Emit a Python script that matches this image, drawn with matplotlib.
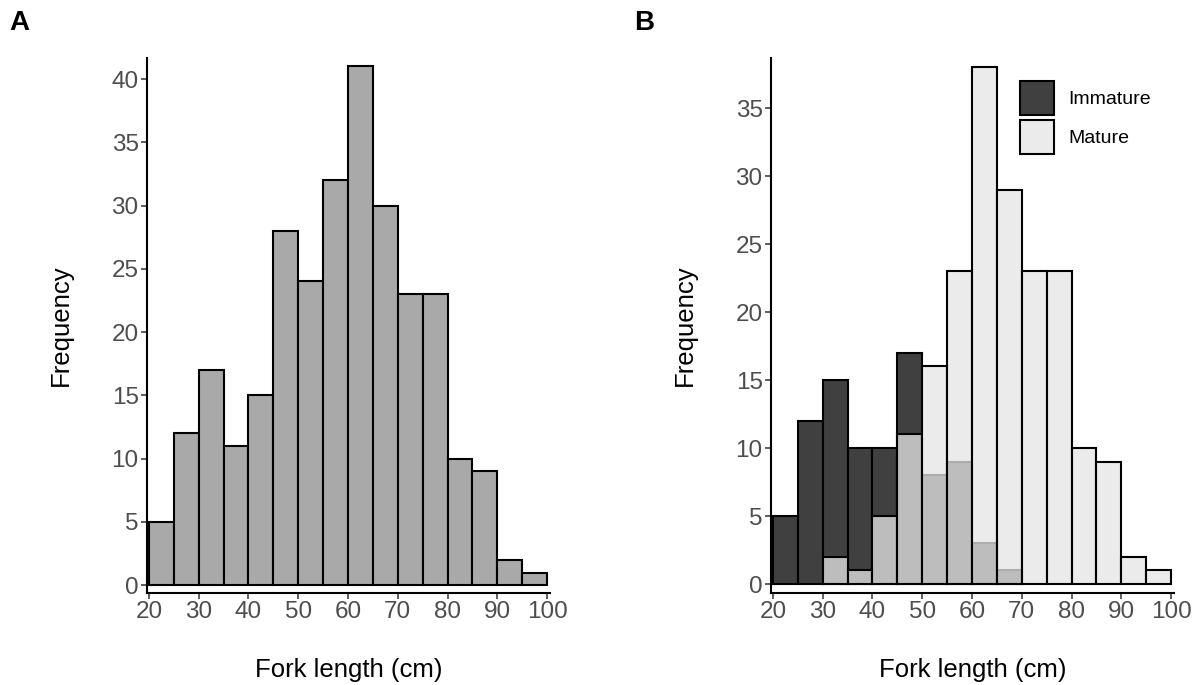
import matplotlib
matplotlib.use("Agg")
import matplotlib.pyplot as plt
from matplotlib.patches import Patch
import numpy as np

plt.rcParams['font.family'] = ['Liberation Sans', 'DejaVu Sans']

# bins of 5 cm from 20 to 100
bin_left = np.arange(20, 100, 5)
total = [5, 12, 17, 11, 15, 28, 24, 32, 41, 30, 23, 23, 10, 9, 2, 1]
immature = [5, 12, 15, 10, 10, 17, 8, 9, 3, 1, 0, 0, 0, 0, 0, 0]
mature = [0, 0, 2, 1, 5, 11, 16, 23, 38, 29, 23, 23, 10, 9, 2, 1]
xticks = [20, 30, 40, 50, 60, 70, 80, 90, 100]

W, H = 1198, 685
fig = plt.figure(figsize=(W / 100, H / 100), dpi=100)

bottom = (H - 593) / H
top = (H - 58) / H
axA = fig.add_axes([147 / W, bottom, (550 - 147) / W, top - bottom])
axB = fig.add_axes([771 / W, bottom, (1174 - 771) / W, top - bottom])

lw = 1.5
axA.bar(bin_left, total, width=5, align='edge', color='#a9a9a9',
        edgecolor='black', linewidth=lw)

imm = np.array(immature)
mat = np.array(mature)
m = imm > 0
axB.bar(bin_left[m], imm[m], width=5, align='edge', color='#404040',
        edgecolor='black', linewidth=lw)
m = mat > 0
axB.bar(bin_left[m], mat[m], width=5, align='edge',
        color=(229 / 255, 229 / 255, 229 / 255, 0.76),
        edgecolor='black', linewidth=lw)

axA.set_ylim(-0.62, 41.66)
axB.set_ylim(-0.66, 38.68)
axA.set_yticks(range(0, 41, 5))
axB.set_yticks(range(0, 36, 5))

for ax in (axA, axB):
    ax.set_xlim(19.6, 100.6)
    ax.set_xticks(xticks)
    for s in ('top', 'right'):
        ax.spines[s].set_visible(False)
    for s in ('left', 'bottom'):
        ax.spines[s].set_linewidth(1.5)
    ax.tick_params(direction='out', length=4, width=1.1, color='#333333',
                   labelcolor='#4d4d4d', labelsize=17.5, pad=2)
    ax.set_xlabel('Fork length (cm)', fontsize=18.5, labelpad=25)
    ax.set_ylabel('Frequency', fontsize=18.5, labelpad=28)

# legend boxes ~35 px square
fs = 14
handles = [Patch(facecolor='#404040', edgecolor='black', linewidth=lw, label='Immature'),
           Patch(facecolor='#ebebeb', edgecolor='black', linewidth=lw, label='Mature')]
fig.legend(handles=handles, loc='upper left',
           bbox_to_anchor=(1020 / W, (H - 81) / H), frameon=False,
           fontsize=fs, handlelength=24.5 / fs, handleheight=(24.5 / fs - 0.245) / 0.65,
           labelspacing=0.25, handletextpad=0.75, borderpad=0, borderaxespad=0)

fig.text(9 / W, (H - 10) / H, 'A', fontsize=20, fontweight='bold', va='top', ha='left')
fig.text(634 / W, (H - 10) / H, 'B', fontsize=20, fontweight='bold', va='top', ha='left')

fig.savefig('out.png', dpi=100)
